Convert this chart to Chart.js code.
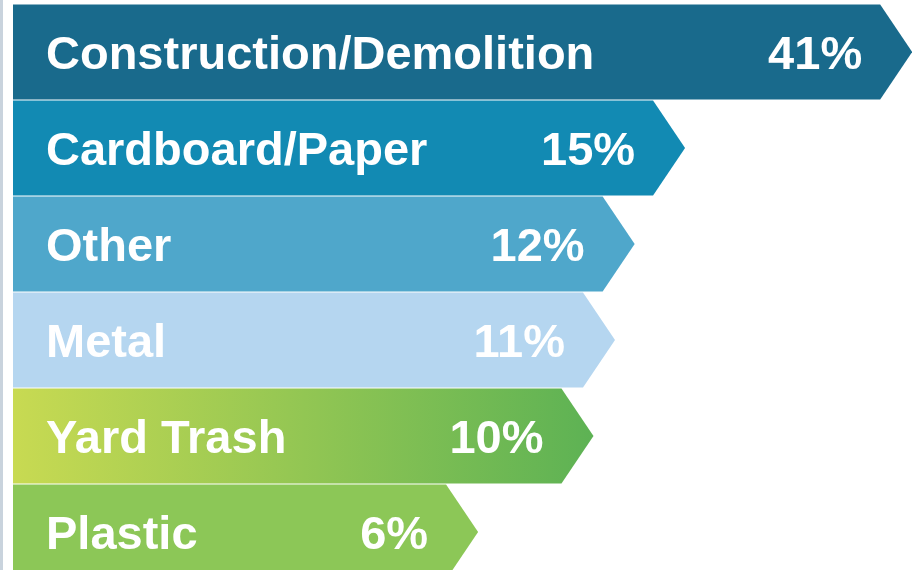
<!DOCTYPE html>
<html>
<head>
<meta charset="utf-8">
<script src="https://cdn.jsdelivr.net/npm/chart.js@4.4.1/dist/chart.umd.min.js"></script>
<style>
  html, body { margin: 0; padding: 0; background: #fff; overflow: hidden; }
  #wrap { width: 912px; height: 580px; }
</style>
</head>
<body>
<div id="wrap"><canvas id="waste-chart" width="912" height="580"></canvas></div>
<script>
const categories = ['Construction/Demolition', 'Cardboard/Paper', 'Other', 'Metal', 'Yard Trash', 'Plastic'];
const shares = [41, 15, 12, 11, 10, 6];
const barColors = ['#196a8c', '#128ab3', '#4fa7cb', '#b5d6f0', '#8cc757', '#8cc757'];

const TIP = 32;

// bars are drawn by hand as arrows, the library only gives the geometry
const arrowBars = {
  id: 'arrowBars',
  beforeDraw(chart) {
    const ctx = chart.ctx;
    ctx.save();
    ctx.fillStyle = '#c9d3dd';
    ctx.fillRect(0, 0, 3, chart.height);
    ctx.restore();
  },
  afterDatasetsDraw(chart) {
    const ctx = chart.ctx;
    const meta = chart.getDatasetMeta(0);
    ctx.save();
    meta.data.forEach((bar, i) => {
      const { x, y, base, height } = bar.getProps(['x', 'y', 'base', 'height'], true);
      const top = y - height / 2;
      const bottom = y + height / 2;
      const tip = x + TIP;

      ctx.beginPath();
      ctx.moveTo(base, top);
      ctx.lineTo(x, top);
      ctx.lineTo(tip, y);
      ctx.lineTo(x, bottom);
      ctx.lineTo(base, bottom);
      ctx.closePath();

      let fill = barColors[i];
      if (i === 4) {
        const g = ctx.createLinearGradient(base, 0, tip, 0);
        g.addColorStop(0, '#c8da52');
        g.addColorStop(1, '#5db254');
        fill = g;
      }
      ctx.fillStyle = fill;
      ctx.fill();

      ctx.font = 'bold 47px "Liberation Sans", Arial, sans-serif';
      ctx.fillStyle = '#ffffff';
      ctx.textBaseline = 'alphabetic';
      ctx.textAlign = 'left';
      ctx.fillText(categories[i], base + 33, y + 17);
      ctx.textAlign = 'right';
      ctx.fillText(shares[i] + '%', x - 18, y + 17);
    });
    ctx.restore();
  }
};

const wasteChart = new Chart(document.getElementById('waste-chart'), {
  type: 'bar',
  data: {
    labels: categories,
    datasets: [{
      label: 'Share of waste',
      data: shares,
      backgroundColor: 'rgba(0,0,0,0)',
      borderWidth: 0,
      barPercentage: 0.99,
      categoryPercentage: 1
    }]
  },
  options: {
    indexAxis: 'y',
    responsive: false,
    animation: false,
    events: [],
    layout: {
      padding: { left: 13, right: 0, top: 4, bottom: 0 }
    },
    plugins: {
      legend: { display: false },
      tooltip: { enabled: false }
    },
    scales: {
      x: {
        type: 'logarithmic',
        min: 0.882,
        max: 47.2,
        display: false
      },
      y: {
        display: false
      }
    }
  },
  plugins: [arrowBars]
});
</script>
</body>
</html>
